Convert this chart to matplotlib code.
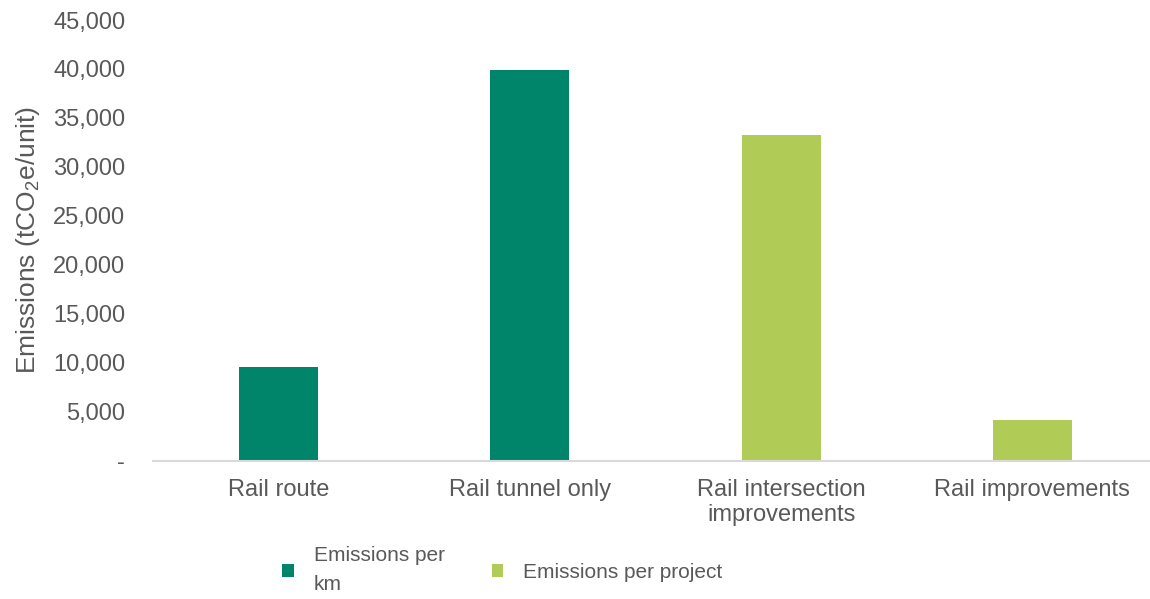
import matplotlib
matplotlib.use("Agg")
import matplotlib.pyplot as plt
from matplotlib.patches import Patch

categories = ["Rail route", "Rail tunnel only", "Rail intersection\nimprovements", "Rail improvements"]
values = [9600, 39900, 33250, 4150]
series = ["per_km", "per_km", "per_project", "per_project"]
series_labels = {"per_km": "Emissions per\nkm", "per_project": "Emissions per project"}
series_colors = {"per_km": "#00856A", "per_project": "#B0CC57"}
yticks = [0, 5000, 10000, 15000, 20000, 25000, 30000, 35000, 40000, 45000]
ytick_labels = ["-", "5,000", "10,000", "15,000", "20,000", "25,000", "30,000", "35,000", "40,000", "45,000"]

plt.rcParams['font.family'] = ['Liberation Sans', 'DejaVu Sans']
plt.rcParams['mathtext.fontset'] = 'custom'
plt.rcParams['mathtext.rm'] = 'Liberation Sans'
plt.rcParams['mathtext.it'] = 'Liberation Sans'
gray = "#595959"

fig = plt.figure(figsize=(11.5, 5.99), dpi=100)
ax = fig.add_axes([0.133, 0.2309, 0.874, 0.7357])

x = range(len(categories))
colors = [series_colors[s] for s in series]
ax.bar(x, values, width=0.314, color=colors)

ax.set_xlim(-0.5, len(categories) - 0.5)
ax.set_ylim(0, 45000)
ax.set_yticks(yticks)
ax.set_yticklabels(ytick_labels, fontsize=17, color=gray)
ax.set_xticks(list(x))
ax.set_xticklabels(categories, fontsize=17, color=gray, linespacing=1.22)
ax.tick_params(axis='both', length=0)
ax.tick_params(axis='y', pad=20)
ax.tick_params(axis='x', pad=13)
for s in ["top", "right", "left"]:
    ax.spines[s].set_visible(False)
ax.spines["bottom"].set_color("#D9D9D9")
ax.spines["bottom"].set_linewidth(1.5)

ax.set_ylabel("Emissions (tCO$_2$e/unit)", fontsize=19, color=gray)
ax.yaxis.set_label_coords(-0.110, 0.5)

handles = [Patch(facecolor=series_colors[k], edgecolor='none') for k in ["per_km", "per_project"]]
labels = [series_labels[k] for k in ["per_km", "per_project"]]
leg = fig.legend(handles, labels, loc='center left', bbox_to_anchor=(0.229, 0.048), ncol=2,
                 frameon=False, fontsize=15, handlelength=0.55, handleheight=0.55,
                 handletextpad=0.96, columnspacing=2.26, labelspacing=0.2)
for t in leg.get_texts():
    t.set_color(gray)
    t.set_linespacing(1.67)

fig.savefig("out.png", dpi=100)
